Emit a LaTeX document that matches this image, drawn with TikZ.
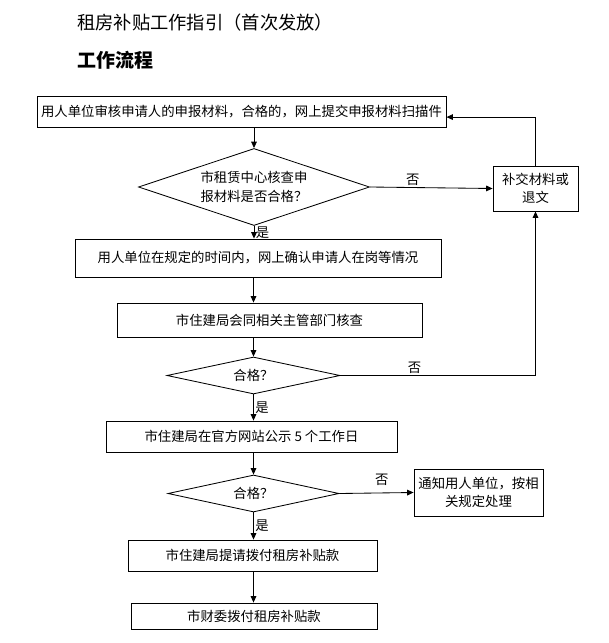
\documentclass[tikz,border=0pt]{standalone}
\usepackage{fontspec}
\setmainfont{Noto Sans CJK SC}
\usepackage{tikz}
\usetikzlibrary{arrows.meta,positioning,shapes.geometric,calc}
\tikzset{
  fbox/.style={draw, line width=0.6pt, align=center, inner sep=2pt, font=\fontsize{9.5}{13}\selectfont},
  fdiamond/.style={draw, diamond, aspect=3, line width=0.6pt, align=left, inner sep=0pt, font=\fontsize{9.5}{13}\selectfont},
  farrow/.style={-{Triangle[length=1.6mm,width=1.4mm]}, line width=0.6pt},
  flabel/.style={font=\fontsize{9.5}{12}\selectfont, inner sep=1pt}
}
\begin{document}
\begin{tikzpicture}[x=0.025cm,y=-0.025cm]
\useasboundingbox (0,0) rectangle (608,643);
\node[anchor=west, inner sep=0pt, font=\fontsize{13}{15}\selectfont] (title) at (77,23) {租房补贴工作指引（首次发放）};
\node[anchor=west, inner sep=0pt, font=\fontsize{13.5}{15}\selectfont\bfseries] (subtitle) at (77,60) {工作流程};
\node[fbox, minimum width=10.225cm, minimum height=0.775cm] (apply) at (241.5,111.5) {用人单位审核申请人的申报材料，合格的，网上提交申报材料扫描件};
\node[fdiamond, minimum width=5.775cm, minimum height=1.925cm] (check1) at (254,187) {市租赁中心核查申\\报材料是否合格？};
\node[fbox, minimum width=2.125cm, minimum height=1.125cm] (resubmit) at (535.5,188.5) {补交材料或\\退文};
\node[fbox, minimum width=9.15cm, minimum height=0.95cm] (confirm) at (258,258) {用人单位在规定的时间内，网上确认申请人在岗等情况};
\node[fbox, minimum width=7.625cm, minimum height=0.85cm] (verify) at (269.5,320) {市住建局会同相关主管部门核查};
\node[fdiamond, aspect=4.7, minimum width=4.325cm, minimum height=0.925cm] (check2) at (253.5,375.5) {合格？};
\node[fbox, minimum width=7.275cm, minimum height=0.775cm] (publish) at (251.5,436.5) {市住建局在官方网站公示 5 个工作日};
\node[fdiamond, aspect=4.6, minimum width=4.275cm, minimum height=0.925cm] (check3) at (253.5,493.5) {合格？};
\node[fbox, minimum width=3.225cm, minimum height=1.175cm] (notify) at (478.5,492.5) {通知用人单位，按相\\关规定处理};
\node[fbox, minimum width=6.225cm, minimum height=0.775cm] (request) at (252.5,555.5) {市住建局提请拨付租房补贴款};
\node[fbox, minimum width=6.15cm, minimum height=0.65cm] (pay) at (254,616) {市财委拨付租房补贴款};
\draw[farrow] (apply.south -| check1.north) -- (check1.north);
\draw[farrow] (check1.east) -- node[flabel, above, pos=0.35] {否} (resubmit.west);
\draw[farrow] (resubmit.north) |- ([yshift=-0.14cm]apply.east);
\draw[farrow] (check1.south) -- node[flabel, right, pos=0.5] {是} (check1.south |- confirm.north);
\draw[farrow] (confirm.south -| check2.north) -- (verify.north -| check2.north);
\draw[farrow] (verify.south -| check2.north) -- (check2.north);
\draw[farrow] (check2.east) -| node[flabel, above, pos=0.19] {否} (resubmit.south);
\draw[farrow] (check2.south) -- node[flabel, right, pos=0.5] {是} (check2.south |- publish.north);
\draw[farrow] (publish.south -| check3.north) -- (check3.north);
\draw[farrow] (check3.east) -- node[flabel, above=4pt, pos=0.57] {否} (notify.west);
\draw[farrow] (check3.south) -- node[flabel, right, pos=0.5] {是} (check3.south |- request.north);
\draw[farrow] (request.south -| check3.south) -- (pay.north -| check3.south);
\end{tikzpicture}
\end{document}
